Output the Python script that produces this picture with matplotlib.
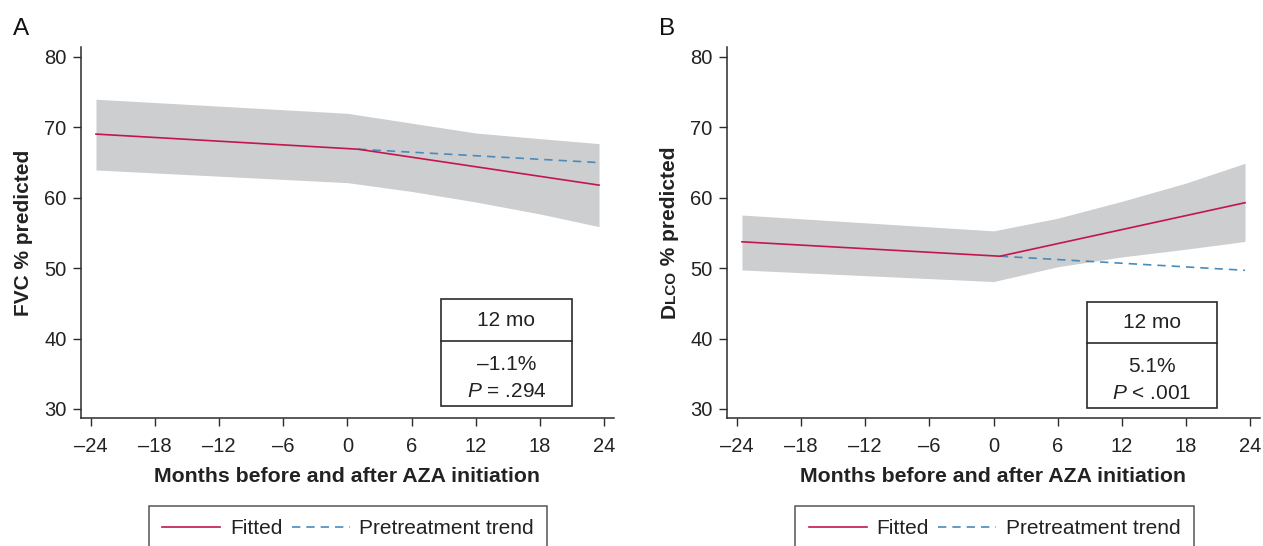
import matplotlib
matplotlib.use("Agg")
import matplotlib.pyplot as plt
from matplotlib.lines import Line2D

plt.rcParams['font.family'] = ['Liberation Sans', 'DejaVu Sans']
plt.rcParams['mathtext.fontset'] = 'custom'
plt.rcParams['mathtext.rm'] = 'Liberation Sans'
plt.rcParams['mathtext.it'] = 'Liberation Sans:italic'

# ---------------- data ----------------
x_ticks = [-24, -18, -12, -6, 0, 6, 12, 18, 24]
x_tick_labels = ["\u201324", "\u201318", "\u201312", "\u20136", "0", "6", "12", "18", "24"]
y_ticks = [30, 40, 50, 60, 70, 80]

band_months = [-23.5, 0, 6, 12, 18, 23.5]

# Panel A: FVC
fvc_band_upper = [74.0, 72.0, 70.6, 69.2, 68.4, 67.7]
fvc_band_lower = [63.95, 62.15, 60.9, 59.4, 57.7, 55.9]
fvc_fit_months = [-23.5, 1.0, 23.5]
fvc_fit = [69.05, 66.9, 61.8]
fvc_trend_months = [1.0, 23.5]
fvc_trend = [66.9, 65.0]

# Panel B: DLCO
dlco_band_upper = [57.55, 55.3, 57.1, 59.5, 62.1, 64.9]
dlco_band_lower = [49.75, 48.1, 50.2, 51.6, 52.7, 53.8]
dlco_fit_months = [-23.5, 0.6, 23.5]
dlco_fit = [53.75, 51.7, 59.3]
dlco_trend_months = [0.6, 23.5]
dlco_trend = [51.7, 49.7]

box_header = "12 mo"
fvc_box = ["\u20131.1%", "$P$ = .294"]
dlco_box = ["5.1%", "$P$ < .001"]

legend_labels = ["Fitted", "Pretreatment trend"]

# ---------------- style ----------------
W, H = 1263, 546
RED = "#C4164C"
BLUE = "#4A8BBB"
GRAY = "#CDCED0"
DARK = "#2B2B2B"
FS = 15

fig = plt.figure(figsize=(W / 100, H / 100), dpi=100)

def fx(px):
    return px / W

def fy(py):  # py measured from top
    return 1 - py / H

ax_w = 533
axA = fig.add_axes([fx(81), fy(418), ax_w / W, 371 / H])
axB = fig.add_axes([fx(727), fy(418), ax_w / W, 371 / H])


def style_axis(ax):
    ax.set_xlim(-24.9, 24.9)
    ax.set_ylim(28.72, 81.42)
    for s in ["top", "right"]:
        ax.spines[s].set_visible(False)
    for s in ["left", "bottom"]:
        ax.spines[s].set_color(DARK)
        ax.spines[s].set_linewidth(1.1)
    ax.set_xticks(x_ticks)
    ax.set_xticklabels(x_tick_labels)
    ax.set_yticks(y_ticks)
    ax.tick_params(axis="both", direction="out", length=5.5, width=1.0,
                   color=DARK, labelcolor="#222222", labelsize=14.5)
    ax.tick_params(axis="x", pad=8)
    ax.tick_params(axis="y", pad=5)
    ax.set_xlabel("Months before and after AZA initiation", fontsize=15.3,
                  fontweight="bold", color="#222222", labelpad=8)


def draw_panel(ax, upper, lower, fit_m, fit, tr_m, tr, box_lines, bx):
    ax.fill_between(band_months, lower, upper, color=GRAY, linewidth=0, zorder=1)
    ax.plot(tr_m, tr, color=BLUE, linewidth=1.2, dashes=(5, 3.6), zorder=2)
    ax.plot(fit_m, fit, color=RED, linewidth=1.2, zorder=3)
    x0, x1, yb, ydiv, yt = bx
    ax.add_patch(plt.Rectangle((x0, yb), x1 - x0, yt - yb, transform=ax.transAxes,
                               facecolor="white", edgecolor=DARK, linewidth=1.2, zorder=5))
    ax.plot([x0, x1], [ydiv, ydiv], transform=ax.transAxes, color=DARK,
            linewidth=1.2, zorder=6)
    xc = (x0 + x1) / 2
    ax.text(xc, (ydiv + yt) / 2, box_header, transform=ax.transAxes, ha="center",
            va="center", fontsize=FS, color="#222222", zorder=7)
    ax.text(xc, ydiv - (ydiv - yb) * 0.36, box_lines[0], transform=ax.transAxes,
            ha="center", va="center", fontsize=FS, color="#222222", zorder=7)
    ax.text(xc, ydiv - (ydiv - yb) * 0.78, box_lines[1], transform=ax.transAxes,
            ha="center", va="center", fontsize=FS, color="#222222", zorder=7)


style_axis(axA)
style_axis(axB)
draw_panel(axA, fvc_band_upper, fvc_band_lower, fvc_fit_months, fvc_fit,
           fvc_trend_months, fvc_trend, fvc_box, (0.676, 0.9206, 0.0332, 0.2075, 0.320))
draw_panel(axB, dlco_band_upper, dlco_band_lower, dlco_fit_months, dlco_fit,
           dlco_trend_months, dlco_trend, dlco_box, (0.675, 0.920, 0.0278, 0.203, 0.3127))

# y labels
fig.text(fx(29.5), fy(232.5), "FVC % predicted", rotation=90, rotation_mode="anchor",
         ha="center", va="baseline", fontsize=FS, fontweight="bold", color="#222222")

renderer = fig.canvas.get_renderer()
pieces = [("D", FS), ("LCO", 11), (" % predicted", FS)]
objs = []
for s, size in pieces:
    t = fig.text(0, 0, s, rotation=90, rotation_mode="anchor", ha="left",
                 va="baseline", fontsize=size, fontweight="bold", color="#222222")
    objs.append(t)
lengths = [t.get_window_extent(renderer).height for t in objs]
total = sum(lengths)
start = (H - 232.5) - total / 2
for t, L in zip(objs, lengths):
    t.set_position((fx(675), start / H))
    start += L

# panel letters
fig.text(fx(13), fy(35), "A", fontsize=17.5, color="#111111", va="baseline", ha="left")
fig.text(fx(659), fy(35), "B", fontsize=17.5, color="#111111", va="baseline", ha="left")

# legends
handles = [Line2D([], [], color=RED, linewidth=1.2),
           Line2D([], [], color=BLUE, linewidth=1.2, dashes=(5, 3.6))]
for cx in (348, 994.4):
    leg = fig.legend(handles, legend_labels, ncol=2, loc="upper center",
                     bbox_to_anchor=(fx(cx), fy(505.5)), frameon=True, fancybox=False,
                     edgecolor=DARK, fontsize=FS, handlelength=2.8, handletextpad=0.45,
                     columnspacing=0.45, borderpad=0.65, borderaxespad=0)
    leg.get_frame().set_linewidth(1.1)
    for txt in leg.get_texts():
        txt.set_color("#222222")

fig.savefig("out.png", dpi=100)
